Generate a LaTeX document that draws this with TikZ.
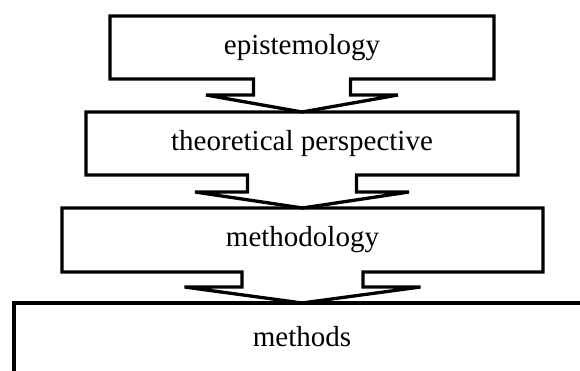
\documentclass[tikz,border=0pt]{standalone}
\usepackage{fontspec}
\setmainfont{Liberation Serif}
\usetikzlibrary{calc}
\tikzset{
  stage/.style={minimum height=63pt,inner sep=0pt,outer sep=0pt,font=\fontsize{29}{34}\selectfont},
  stageline/.style={line width=3.3pt,line join=miter,black},
}
\begin{document}
\begin{tikzpicture}[x=1pt,y=-1pt]
      \useasboundingbox (0,0) rectangle (580,371);
      \clip (0,0) rectangle (580,371);
      \node[stage,minimum width=384pt] (epi) at (302,47.5) {epistemology};
      \node[stage,minimum width=432pt] (theo) at (302,143.5) {theoretical perspective};
      \node[stage,minimum width=481pt,minimum height=64pt] (meth) at (302.5,240) {methodology};
      \node[stage] (methods) at (302,337) {methods};
      \coordinate (methtop) at (302,303);
      \draw[stageline] (epi.south west) -- (epi.north west) -- (epi.north east) -- (epi.south east)
        -- ($(epi.south)+(48.5,0)$) -- ++(0,16) -- ++(47.5,0) -- (theo.north)
        -- ($(epi.south)+(-96,16)$) -- ++(47.5,0) -- ++(0,-16) -- cycle;
      \draw[stageline] (theo.south west) -- (theo.north west) -- (theo.north east) -- (theo.south east)
        -- ($(theo.south)+(54.5,0)$) -- ++(0,17) -- ++(52.5,0) -- (meth.north)
        -- ($(theo.south)+(-107,17)$) -- ++(52.5,0) -- ++(0,-17) -- cycle;
      \draw[stageline] (meth.south west) -- (meth.north west) -- (meth.north east) -- (meth.south east)
        -- ($(meth.south)+(60.5,0)$) -- ++(0,15) -- ++(57.5,0) -- (methtop)
        -- ($(meth.south)+(-118,15)$) -- ++(57.5,0) -- ++(0,-15) -- cycle;
      \draw[stageline] (14,380) -- (14,303) -- (590,303);
\end{tikzpicture}
\end{document}
